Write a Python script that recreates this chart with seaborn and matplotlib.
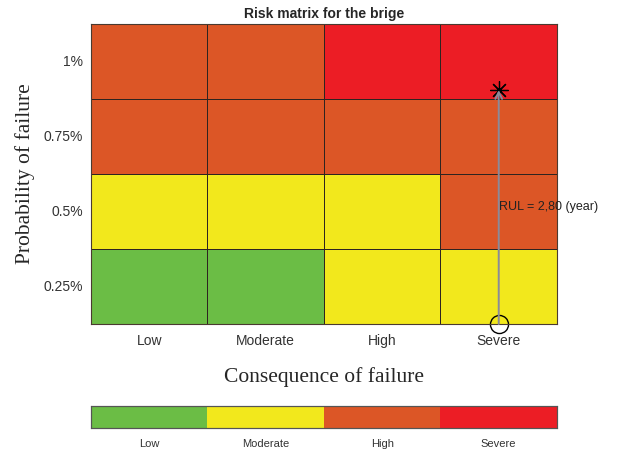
"""
plot.py

Risk matrix for the bridge, drawn as a seaborn heatmap.
"""

import numpy as np
import matplotlib
matplotlib.use("Agg")
import matplotlib.pyplot as plt
import seaborn as sns
from matplotlib.colors import ListedColormap

############################################################
# Data
############################################################

risk_levels = ["Low", "Moderate", "High", "Severe"]
risk_colors = ["#6bbd45", "#f2e81c", "#dc5626", "#ec1d25"]

consequence_labels = ["Low", "Moderate", "High", "Severe"]
probability_labels = ["1%", "0.75%", "0.5%", "0.25%"]

# risk level index per cell, top row = 1%
row_1 = [2, 2, 3, 3]
row_075 = [2, 2, 2, 2]
row_05 = [1, 1, 1, 2]
row_025 = [0, 0, 1, 1]

# RUL marker: consequence category, probability (%) of star
rul_consequence = "Severe"
rul_probability = 0.905
rul_start_probability = 0.125
rul_text = "RUL = 2,80 (year)"
rul_text_probability = 0.515

############################################################
# Figure
############################################################

sns.set_theme(style="white")
plt.rcParams["font.family"] = ["Liberation Sans", "DejaVu Sans"]

fig = plt.figure(figsize=(6.28, 4.54), dpi=100)
ax = fig.add_axes([0.1449, 0.2863, 0.7420, 0.6608])
cax = fig.add_axes([0.1449, 0.0573, 0.7420, 0.0485])

grid = np.array([row_1, row_075, row_05, row_025])
cmap = ListedColormap(risk_colors)

sns.heatmap(
    grid,
    ax=ax,
    cmap=cmap,
    vmin=-0.5,
    vmax=3.5,
    linewidths=0.6,
    linecolor="#2e2420",
    cbar=True,
    cbar_ax=cax,
    cbar_kws={"orientation": "horizontal", "ticks": range(len(risk_levels))},
    xticklabels=consequence_labels,
    yticklabels=probability_labels,
)

# box and inward ticks like the original
for side in ax.spines.values():
    side.set_visible(True)
    side.set_color("#4a3a30")
    side.set_linewidth(0.8)

ax.tick_params(
    axis="both", direction="in", length=3, width=0.6, color="#555555",
    bottom=True, left=True, top=True, right=True,
    labelsize=10, labelcolor="#333333", pad=7,
)
ax.tick_params(axis="y", labelrotation=0, pad=6)

ax.set_title("Risk matrix for the brige", fontsize=10, fontweight="bold", pad=4)
ax.set_xlabel("Consequence of failure", family="Liberation Serif", fontsize=15.5, labelpad=14)
ax.set_ylabel("Probability of failure", family="Liberation Serif", fontsize=15.5, labelpad=6)

############################################################
# RUL arrow
############################################################

def prob_to_row(p):
    return (1.125 - p) / 0.25

x_rul = consequence_labels.index(rul_consequence) + 0.5

ax.annotate(
    "",
    xy=(x_rul, prob_to_row(rul_probability)),
    xytext=(x_rul, prob_to_row(rul_start_probability)),
    arrowprops=dict(arrowstyle="->", color="#8a8a9a", lw=1.4, shrinkA=0, shrinkB=0),
    annotation_clip=False,
)

ax.plot(x_rul, prob_to_row(rul_probability), marker=(8, 2, 0), markersize=13,
        color="black", markeredgewidth=0.9, clip_on=False)
ax.plot(x_rul, prob_to_row(rul_start_probability), marker="o", markersize=13,
        markerfacecolor="none", markeredgecolor="black", markeredgewidth=1.0,
        clip_on=False)

ax.text(x_rul, prob_to_row(rul_text_probability), rul_text,
        ha="left", va="center", fontsize=9, color="#222222")

############################################################
# Colour bar
############################################################

cax.set_xticklabels(risk_levels)
cax.tick_params(length=0, labelsize=8, labelcolor="#333333", pad=8)
cax.xaxis.set_ticks_position("bottom")
for side in cax.spines.values():
    side.set_visible(True)
    side.set_color("#555555")
    side.set_linewidth(0.8)

plt.savefig("out.png", dpi=100)
plt.close()
